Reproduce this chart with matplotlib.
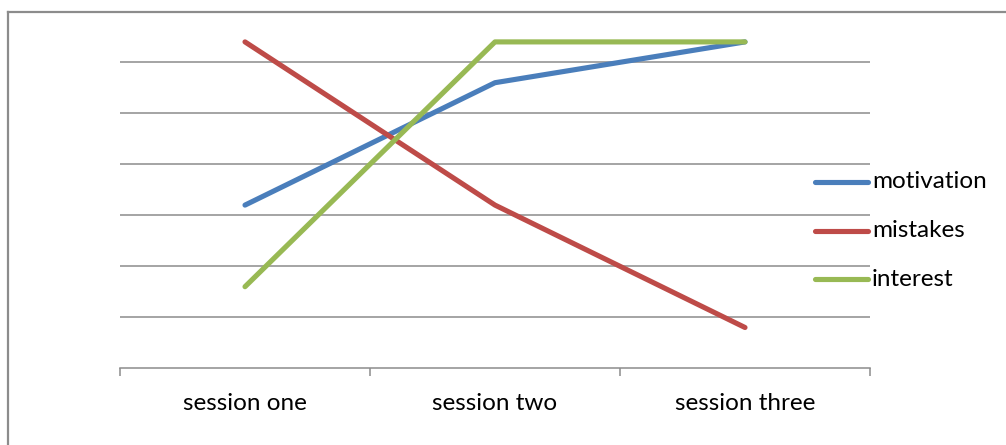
import matplotlib
matplotlib.use("Agg")
import matplotlib.pyplot as plt
from matplotlib.lines import Line2D

categories = ["session one", "session two", "session three"]
motivation = [3.2, 5.6, 6.4]
mistakes = [6.4, 3.2, 0.8]
interest = [1.6, 6.4, 6.4]
series_names = ["motivation", "mistakes", "interest"]
colors = ["#4A7EBB", "#BE4B48", "#98B954"]

plt.rcParams['font.family'] = ['Lato', 'DejaVu Sans']

W, H = 1006, 445
fig = plt.figure(figsize=(W / 100, H / 100), dpi=100)
ax = fig.add_axes([120 / W, (H - 368.3) / H, 750 / W, 357 / H])

x = list(range(len(categories)))
for vals, name, c in zip([motivation, mistakes, interest], series_names, colors):
    ax.plot(x, vals, color=c, lw=3.7, solid_capstyle='round', solid_joinstyle='round', label=name, zorder=3)

ax.set_xlim(-0.5, len(categories) - 0.5)
ax.set_ylim(0, 7)
for g in range(1, 7):
    ax.axhline(g, color="#8c8c8c", lw=1.1, zorder=1)
for s in ["top", "right", "left"]:
    ax.spines[s].set_visible(False)
ax.spines["bottom"].set_color("#8c8c8c")
ax.spines["bottom"].set_linewidth(1.1)
ax.set_yticks([])
ax.set_xticks([-0.5, 0.5, 1.5, 2.5])
ax.set_xticklabels([])
ax.set_xticks(x, minor=True)
ax.set_xticklabels(categories, minor=True, fontsize=17.5)
ax.tick_params(axis='x', which='major', length=6, width=1.1, color="#8c8c8c", direction='out')
ax.tick_params(axis='x', which='minor', length=0, pad=18)

# legend drawn manually
leg_y = [182, 230.5, 279]
for name, c, yy in zip(series_names, colors, leg_y):
    fy = (H - yy) / H
    fig.add_artist(Line2D([815 / W, 868 / W], [fy, fy], color=c, lw=3.7, solid_capstyle='round'))
    fig.text(872 / W, fy, name, fontsize=17.5, va='center', ha='left')

# chart border (top and left)
fig.add_artist(Line2D([7.5 / W, 1.0], [(H - 11.5) / H] * 2, color="#8c8c8c", lw=1.6))
fig.add_artist(Line2D([8.0 / W] * 2, [0, (H - 11.5) / H], color="#8c8c8c", lw=1.6))

fig.savefig("out.png", dpi=100, facecolor="white")
